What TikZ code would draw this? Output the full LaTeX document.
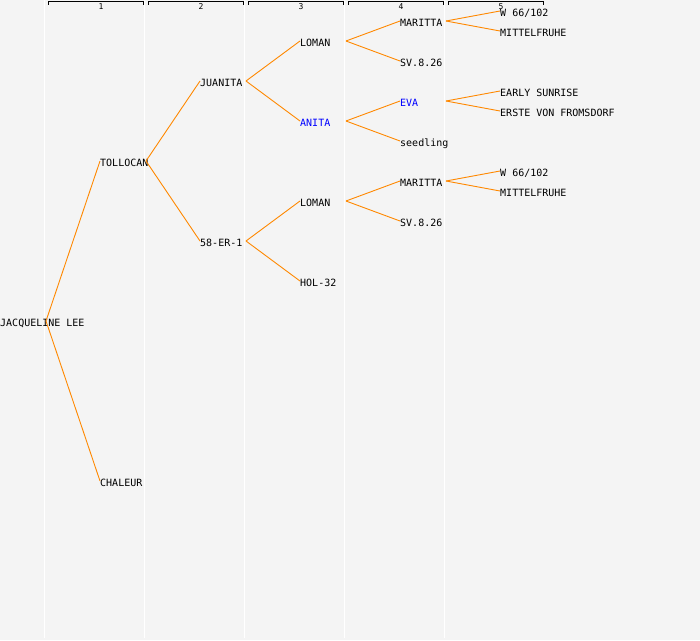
\documentclass[tikz,border=0pt]{standalone}
\usepackage{fontspec}
\setmonofont{DejaVu Sans Mono}
\usetikzlibrary{calc}
\definecolor{bgc}{RGB}{244,244,244}
\definecolor{conn}{RGB}{255,136,0}
\definecolor{hl}{RGB}{0,0,255}
\tikzset{
  nm/.style={anchor=west, inner sep=0pt, text height=8pt, text depth=0pt, font=\ttfamily\fontsize{10pt}{10pt}\selectfont},
  nmblue/.style={nm, text=hl},
  link/.style={draw=conn, line width=0.9pt},
  sep/.style={draw=white, line width=1.5pt},
  brk/.style={draw=black, line width=0.9pt},
  hdr/.style={inner sep=0pt, font=\ttfamily\fontsize{8pt}{8pt}\selectfont}
}
\begin{document}
\begin{tikzpicture}[x=1pt,y=-1pt]
\useasboundingbox (0,0) rectangle (700,640);
\fill[bgc] (0,0) rectangle (700,640);
% column separators
\foreach \x in {44.5,144.5,244.5,344.5,444.5} \draw[sep] (\x,0) -- (\x,638);
% header brackets
\foreach \i/\x in {1/48,2/148,3/248,4/348,5/448} {
  \draw[brk] (\x,4.5) -- (\x,1.5) -- (\x+95,1.5) -- (\x+95,4.5);
  \node[hdr] (h\i) at (\x+53,6.5) {\i};
}
% nodes
\node[nm] (jl) at (0,322) {JACQUELINE LEE};
\node[nm] (tol) at (100,162) {TOLLOCAN};
\node[nm] (cha) at (100,482) {CHALEUR};
\node[nm] (jua) at (200,82) {JUANITA};
\node[nm] (er) at (200,242) {58-ER-1};
\node[nm] (lo1) at (300,42) {LOMAN};
\node[nmblue] (ani) at (300,122) {ANITA};
\node[nm] (lo2) at (300,202) {LOMAN};
\node[nm] (hol) at (300,282) {HOL-32};
\node[nm] (ma1) at (400,22) {MARITTA};
\node[nm] (sv1) at (400,62) {SV.8.26};
\node[nmblue] (eva) at (400,102) {EVA};
\node[nm] (see) at (400,142) {seedling};
\node[nm] (ma2) at (400,182) {MARITTA};
\node[nm] (sv2) at (400,222) {SV.8.26};
\node[nm] (w1) at (500,12) {W 66/102};
\node[nm] (mi1) at (500,32) {MITTELFRUHE};
\node[nm] (ear) at (500,92) {EARLY SUNRISE};
\node[nm] (ers) at (500,112) {ERSTE VON FROMSDORF};
\node[nm] (w2) at (500,172) {W 66/102};
\node[nm] (mi2) at (500,192) {MITTELFRUHE};
% connectors
\foreach \p/\c in {jl/tol,jl/cha,tol/jua,tol/er,jua/lo1,jua/ani,er/lo2,er/hol,
                   lo1/ma1,lo1/sv1,ani/eva,ani/see,lo2/ma2,lo2/sv2,
                   ma1/w1,ma1/mi1,eva/ear,eva/ers,ma2/w2,ma2/mi2}
  \draw[link] ([shift={(46,-1)}]\p.west) -- ([yshift=1pt]\c.west);
\end{tikzpicture}
\end{document}
